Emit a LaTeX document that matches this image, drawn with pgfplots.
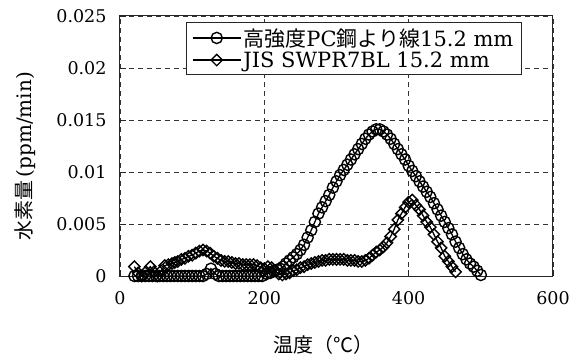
\documentclass[border=0pt]{standalone}
\usepackage{fontspec}
\setmainfont{DejaVu Serif}
\newfontfamily\jp{Noto Sans CJK JP}
\usepackage{pgfplots}
\pgfplotsset{compat=1.18}
\begin{document}
\begin{tikzpicture}
\begin{axis}[
  scale only axis, width=433bp, height=260bp,
  xmin=0, xmax=600, ymin=0, ymax=0.025,
  scaled y ticks=false, scaled x ticks=false,
  xtick={0,200,400,600}, xticklabels={0,200,400,600},
  ytick={0,0.005,0.01,0.015,0.02,0.025},
  yticklabels={0,0.005,0.01,0.015,0.02,0.025},
  xtick pos=bottom, ytick pos=left,
  tick align=inside, major tick length=6bp,
  axis line style={line width=1bp, black!85},
  every tick/.style={line width=0.8bp, black!85},
  grid=major,
  grid style={dashed, black!80, line width=0.7bp, dash pattern=on 5bp off 4bp},
  ticklabel style={font=\fontsize{17.5bp}{21bp}\selectfont},
  yticklabel style={xshift=-10bp},
  xticklabel style={yshift=-12bp},
  xlabel={\jp 温度（℃）},
  xlabel style={at={(axis description cs:0.469,-0.265)}, anchor=center, font=\fontsize{20bp}{24bp}\selectfont},
  ylabel={{\jp 水素量}\,(ppm/min)},
  ylabel style={at={(axis description cs:-0.219,0.46)}, anchor=center, font=\fontsize{20bp}{24bp}\selectfont},
  legend cell align=left,
  legend style={at={(0.928,0.977)}, anchor=north east, draw=black!85, line width=0.8bp,
    font=\fontsize{21bp}{24bp}\selectfont, inner xsep=6bp, inner ysep=4bp, row sep=0bp},
  legend image code/.code={\draw[mark repeat=2,mark phase=2] plot coordinates {(0bp,0bp) (24bp,0bp) (48bp,0bp)};},
]
\addplot[black, line width=1.3bp, mark=o, mark size=5.6bp, mark options={fill=white, line width=1.4bp, solid}]
table {
20 0
25 0
30 0
35 0
40 0
45 0
50 0
55 0
60 0
65 0
70 0
75 0
80 0
85 0
90 0
95 0
100 0
105 0
110 0
115 0
120 0.0002
126 0.0007
132 0.0002
137 0
142 0
147 0
152 0
157 0
162 0
167 0
172 0
177 0
182 0
187 0
192 0
197 0
203 0.0002
208 0.0003
213 0.0005
218 0.0006
222 0.0007
226 0.0009
230 0.0012
235 0.0015
240 0.0018
245 0.0021
250 0.0025
255 0.0030
260 0.0037
265 0.0044
270 0.0052
275 0.0060
280 0.0066
285 0.0072
290 0.0078
295 0.0085
300 0.0091
305 0.0097
310 0.0102
315 0.0107
320 0.0112
325 0.0117
330 0.0122
335 0.0127
340 0.0132
345 0.0136
350 0.0139
355 0.0141
360 0.0141
365 0.0139
370 0.0136
375 0.0132
380 0.0127
385 0.0122
390 0.0117
395 0.0112
400 0.0106
405 0.0101
410 0.0096
415 0.0091
420 0.0086
425 0.0081
430 0.0076
435 0.0070
440 0.0064
445 0.0058
450 0.0052
455 0.0046
460 0.0040
465 0.0033
470 0.0027
475 0.0021
480 0.0016
485 0.0012
490 0.0009
495 0.0005
500 0.0001
};
\addlegendentry{{\jp 高強度}PC{\jp 鋼より線}15.2 mm}
\addplot[black, line width=1.3bp, mark=square, mark size=4bp, mark options={fill=white, line width=1.4bp, solid, rotate=45}]
table {
20 0.0009
25 0.0003
30 0.0000
36 0.0004
42 0.0009
47 0.0004
52 0.0000
57 0.0005
62 0.0010
67 0.0011
72 0.0012
76 0.0013
80 0.0014
85 0.0016
90 0.0017
95 0.0019
100 0.0020
105 0.0022
110 0.0024
115 0.0025
120 0.0024
125 0.0022
130 0.0019
135 0.0017
140 0.0015
145 0.0014
150 0.0014
155 0.0013
160 0.0012
165 0.0012
170 0.0011
175 0.0011
180 0.0011
185 0.0011
190 0.0010
195 0.0008
200 0.0007
205 0.0009
210 0.0008
215 0.0005
220 0.0002
225 0.0001
230 0.0002
235 0.0003
240 0.0005
245 0.0006
250 0.0008
255 0.0009
260 0.0011
265 0.0012
270 0.0013
275 0.0014
280 0.0015
285 0.0015
290 0.0016
295 0.0016
300 0.0016
305 0.0016
310 0.0016
315 0.0015
320 0.0015
325 0.0015
330 0.0014
335 0.0014
340 0.0015
345 0.0017
350 0.0020
355 0.0023
360 0.0025
365 0.0028
370 0.0032
375 0.0038
380 0.0045
385 0.0054
390 0.0060
395 0.0066
400 0.0071
405 0.0073
410 0.0068
415 0.0064
420 0.0058
425 0.0052
430 0.0047
435 0.0040
440 0.0033
445 0.0027
450 0.0019
455 0.0014
460 0.0009
465 0.0004
};
\addlegendentry{JIS SWPR7BL 15.2 mm}
\end{axis}
\pgfresetboundingbox
\path[use as bounding box] ([shift={(-120bp,-84bp)}]current axis.south west) rectangle ([shift={(23bp,16bp)}]current axis.north east);
\end{tikzpicture}
\end{document}
